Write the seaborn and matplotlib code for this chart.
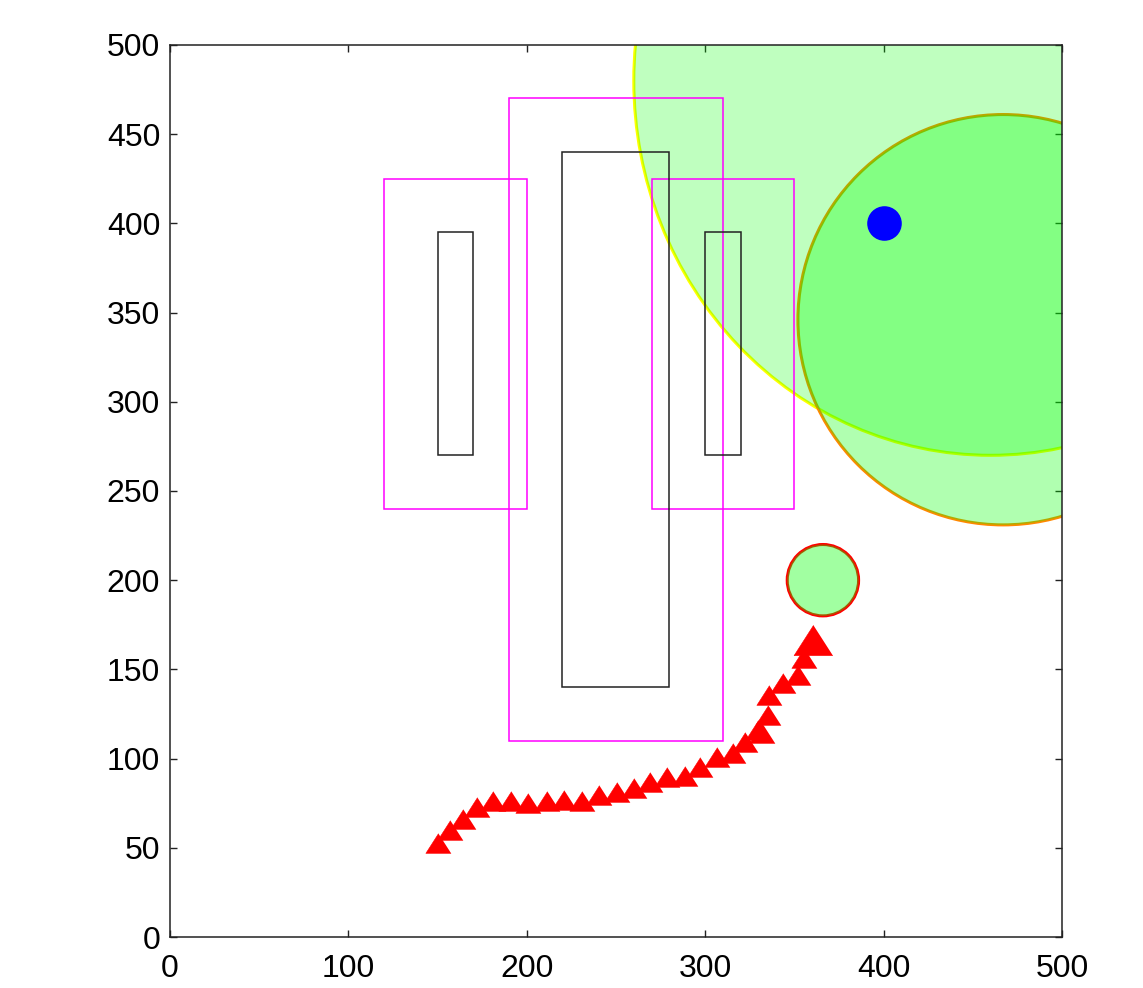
import matplotlib
matplotlib.use('Agg')
import matplotlib.pyplot as plt
import matplotlib.patches as mpatches
import pandas as pd
import seaborn as sns

# obstacles: inner (black) boxes and their inflated (magenta) boxes, as x0, y0, x1, y1
inner_boxes = [(150, 270, 170, 395), (220, 140, 280, 440), (300, 270, 320, 395)]
outer_boxes = [(120, 240, 200, 425), (190, 110, 310, 470), (270, 240, 350, 425)]

# zones: centre x, centre y, width, height
big_zone = (460, 480, 400, 420)
mid_zone = (467, 346, 230, 230)
goal_zone = (366, 200, 40, 40)
target = (400, 400)

# robot path (triangles)
path_x = [150.0, 157.0, 164.4, 171.9, 181.2, 191.0, 200.9, 211.1, 220.9, 230.8,
          240.7, 250.4, 260.1, 269.1, 278.4, 288.7, 297.1, 306.4, 315.4, 322.3,
          329.8, 331.7, 335.4, 335.9, 343.8, 352.0, 355.2]
path_y = [52.5, 60.0, 66.1, 72.7, 76.2, 76.2, 75.3, 76.2, 76.8, 76.2,
          79.6, 81.5, 83.3, 86.7, 89.9, 90.2, 95.5, 100.7, 103.0, 109.5,
          116.0, 114.5, 124.4, 135.6, 142.2, 147.0, 156.6]
last_x = [360.6]
last_y = [166.5]

path = pd.DataFrame({'x': path_x, 'y': path_y})
last = pd.DataFrame({'x': last_x, 'y': last_y})
dot = pd.DataFrame({'x': [target[0]], 'y': [target[1]]})

sns.set_style('ticks')
plt.rcParams['font.family'] = ['Liberation Sans', 'DejaVu Sans']

fig = plt.figure(figsize=(11.43, 9.88), dpi=100)
ax = fig.add_axes([0.1487, 0.0516, 0.7804, 0.9029])

# zone edges first, then translucent fills on top
zones = [(big_zone, '#ffff00', 0.25), (mid_zone, '#ff8800', 0.31), (goal_zone, '#ff0000', 0.37)]
for (cx, cy, w, h), edge, a in zones:
    ax.add_patch(mpatches.Ellipse((cx, cy), w, h, fill=False, ec=edge, lw=2.2, zorder=1))
for (cx, cy, w, h), edge, a in zones:
    ax.add_patch(mpatches.Ellipse((cx, cy), w, h, fc='#00ff00', alpha=a, ec='none', zorder=2))

for x0, y0, x1, y1 in outer_boxes:
    ax.add_patch(mpatches.Rectangle((x0, y0), x1 - x0, y1 - y0, fill=False, ec='#ff00ff', lw=1.1, zorder=3))
for x0, y0, x1, y1 in inner_boxes:
    ax.add_patch(mpatches.Rectangle((x0, y0), x1 - x0, y1 - y0, fill=False, ec='#222222', lw=1.1, zorder=3))

tri = [(0, 0.78), (-1, -0.78), (1, -0.78)]
sns.scatterplot(data=path, x='x', y='y', marker=tri, s=330, color='red', edgecolor='red',
                linewidth=0.4, ax=ax, zorder=4, legend=False)
sns.scatterplot(data=last, x='x', y='y', marker=tri, s=780, color='red', edgecolor='red',
                linewidth=0.4, ax=ax, zorder=4, legend=False)
sns.scatterplot(data=dot, x='x', y='y', marker='o', s=620, color='#0000ff', edgecolor='#0000ff',
                linewidth=0, ax=ax, zorder=5, legend=False)

ax.set_xlim(0, 500)
ax.set_ylim(0, 500)
ax.set_xticks(range(0, 501, 100))
ax.set_yticks(range(0, 501, 50))
ax.set_xlabel('')
ax.set_ylabel('')
for s in ax.spines.values():
    s.set_visible(True)
    s.set_linewidth(1.1)
    s.set_color('#222222')
ax.tick_params(direction='in', length=5, width=1.0, color='#222222', top=True, right=True,
               labelsize=23, labelcolor='black')
ax.tick_params(axis='x', pad=12)
ax.tick_params(axis='y', pad=7)

plt.savefig('out.png', dpi=100)
